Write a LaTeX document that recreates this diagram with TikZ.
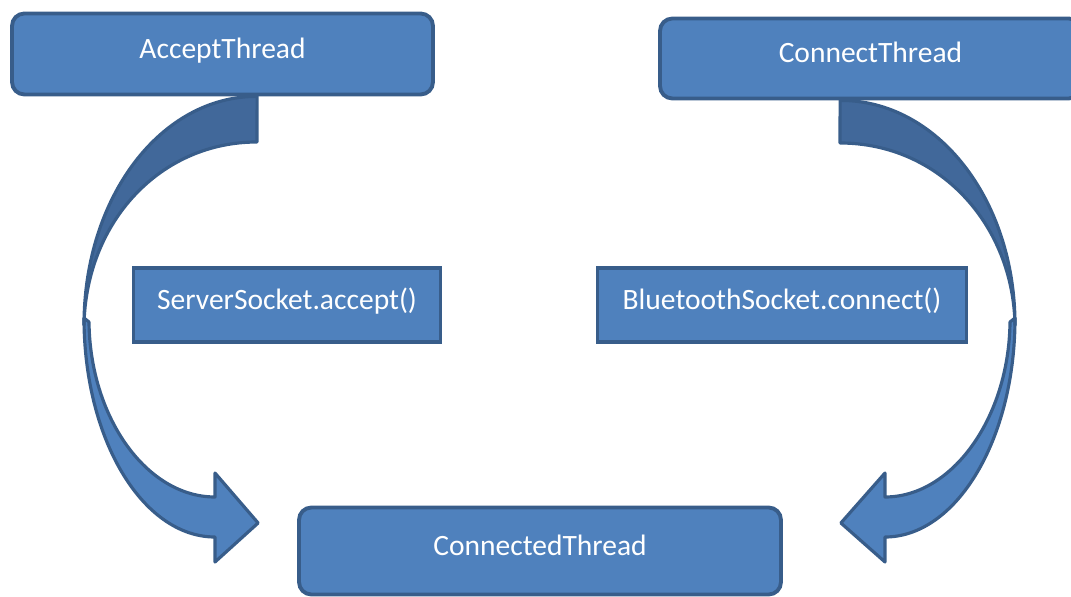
\documentclass[tikz,border=0pt]{standalone}
\usepackage{fontspec}
\setmainfont{Carlito}
\usetikzlibrary{calc, backgrounds}

\definecolor{boxfill}{HTML}{4F81BD}
\definecolor{boxline}{HTML}{385D8A}
\definecolor{backfill}{HTML}{41689A}

\begin{document}
\begin{tikzpicture}[x = 0.02cm, y = -0.02cm,
    label/.style  = {text = white, font = \fontsize{16.8}{20}\selectfont,
                     text height = 11.6pt, text depth = 7pt},
    thread/.style = {label, shape = rectangle, draw = boxline, fill = boxfill, line width = 2.2pt,
                     rounded corners = 7pt},
    call/.style   = {label, shape = rectangle, draw = boxline, fill = boxfill, line width = 1.8pt},
    front/.style  = {draw = boxline, fill = boxfill, line width = 1.8pt, line join = round},
    back/.style   = {draw = boxline, fill = backfill, line width = 1.8pt, line join = round},
  ]
        \useasboundingbox (0, 0) rectangle (1071, 597);
        \clip (0, 0) rectangle (1071, 597);

        % ------------------------------------------------------------------------
        % Threads
        \node[thread, minimum width = 8.42cm, minimum height = 1.62cm] at (222.5, 54) (accept) {AcceptThread};
        \node[thread, minimum width = 8.42cm, minimum height = 1.60cm] at (870.5, 58.5) (connect) {ConnectThread};
        \node[thread, minimum width = 9.64cm, minimum height = 1.74cm] at (540, 551) (connected) {ConnectedThread};

        % ------------------------------------------------------------------------
        % Blocking calls
        \node[call, minimum width = 6.14cm, minimum height = 1.48cm] at (287, 305) (accept call) {ServerSocket.accept()};
        \node[call, minimum width = 7.38cm, minimum height = 1.48cm] at (782, 305) (connect call) {BluetoothSocket.connect()};

        \coordinate (acc tail) at ($(accept.south west) + (247, 0)$);
        \coordinate (acc tip)  at ($(connected.west) + (-39, -28)$);
        \coordinate (con tail) at ($(connect.south west) + (182, 0)$);
        \coordinate (con tip)  at ($(connected.east) + (58, -28)$);

        % ------------------------------------------------------------------------
        % Curved arrows, twisted half way down
        \begin{pgfonlayer}{background}
          \draw[front]
            (84, 318) .. controls (84, 440) and (143, 537) .. (215, 537)
            -- (215, 562) -- (acc tip) -- (215, 473) -- (215, 497)
            .. controls (147, 497) and (90, 418) .. (89, 322) -- cycle
          ;
          \draw[back]
            (acc tail) .. controls (161, 96) and (84, 197) .. (84, 325)
            .. controls (86, 222) and (160, 142) .. (257, 142) -- cycle
          ;

          \draw[front]
            (1015, 318) .. controls (1015, 440) and (956, 537) .. (885, 537)
            -- (885, 562) -- (con tip) -- (885, 473) -- (885, 497)
            .. controls (952, 497) and (1009, 418) .. (1010, 322) -- cycle
          ;
          \draw[back]
            (con tail) .. controls (937, 100) and (1015, 199) .. (1015, 325)
            .. controls (1013, 224) and (939, 143) .. (840, 143) -- cycle
          ;
        \end{pgfonlayer}
      \end{tikzpicture}
\end{document}
